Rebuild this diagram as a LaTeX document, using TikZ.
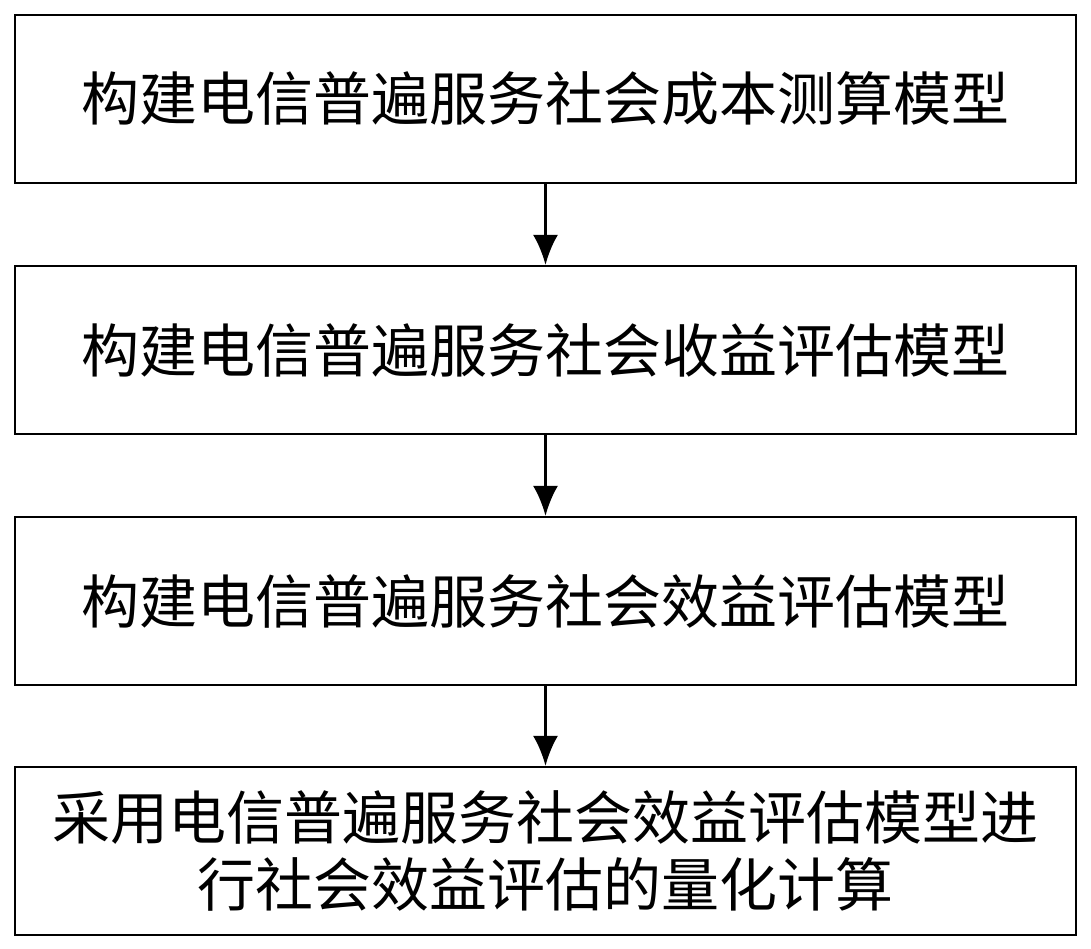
\documentclass[tikz,border=0pt]{standalone}
\usepackage{fontspec}
\newfontfamily\cjk{Noto Sans CJK SC}
\usetikzlibrary{arrows.meta,positioning}

\begin{document}
\begin{tikzpicture}[
    box/.style={rectangle, draw, line width=1.2pt, minimum width=21.22cm, minimum height=3.36cm, align=center, font=\cjk\fontsize{33}{38}\selectfont},
    arrow/.style={-{Latex[length=0.6cm,width=0.5cm]}, line width=1.8pt}
]
    \useasboundingbox (0,0) rectangle (21.82,-18.96);
    \node[box] (cost) at (10.91,-1.98) {构建电信普遍服务社会成本测算模型};
    \node[box] (gain) at (10.91,-7.0) {构建电信普遍服务社会收益评估模型};
    \node[box] (bene) at (10.91,-12.02) {构建电信普遍服务社会效益评估模型};
    \node[box] (calc) at (10.91,-17.02) {采用电信普遍服务社会效益评估模型进\\行社会效益评估的量化计算};

    \draw[arrow] (cost) -- (gain);
    \draw[arrow] (gain) -- (bene);
    \draw[arrow] (bene) -- (calc);
\end{tikzpicture}
\end{document}
